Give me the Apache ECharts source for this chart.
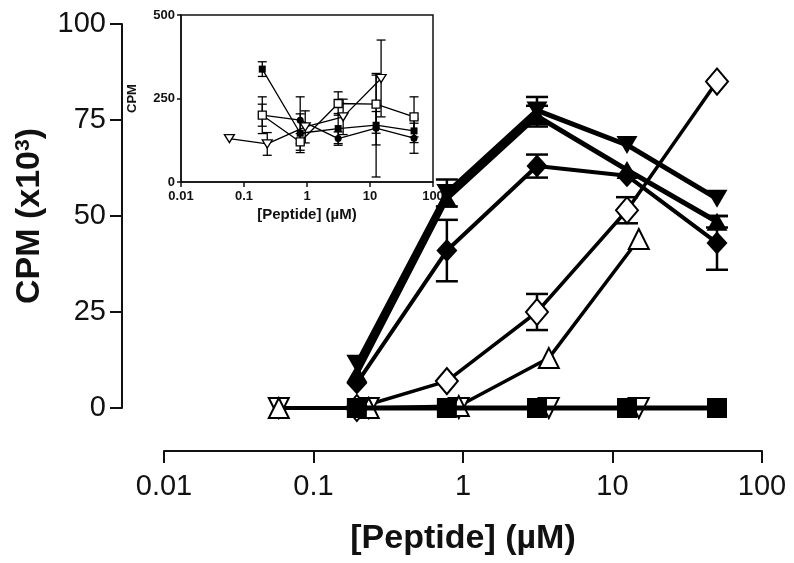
<!DOCTYPE html>
<html>
<head>
<meta charset="utf-8">
<script src="https://cdn.jsdelivr.net/npm/echarts@6/dist/echarts.min.js"></script>
<style>
  html, body { margin: 0; padding: 0; background: #fff; }
  #chart { width: 794px; height: 563px; }
</style>
</head>
<body>
<div id="chart"></div>
<script>
// ---------- data ----------
const concA = [0.195, 0.78, 3.125, 12.5, 50];
const concB = [0.0586, 0.234, 0.9375, 3.75, 15];
const xTickLabels = ['0.01', '0.1', '1', '10', '100'];
const mainYTicks = [0, 25, 50, 75, 100];
const insetYTicks = [0, 250, 500];

// main panel (CPM x10^3)
const mainFilledDown = [11.5, 56, 77.5, 68.5, 54.5];
const mainFilledDownErr = [0, 3.5, 3.5, 0, 0];
const mainFilledUp = [9, 54.5, 76, 62, 48.5];
const mainFilledUpErr = [0, 0, 2.7, 0, 1.5];
const mainFilledDiamond = [6.5, 41, 63, 60.5, 43];
const mainFilledDiamondErr = [0, 8, 3, 0, 7];
const mainOpenDiamond = [0, 7, 25, 51.5, 85];
const mainOpenDiamondErr = [0, 0, 4.7, 3.4, 0];
const mainOpenUp = [0, 0, 0.5, 13, 44];
const mainOpenDown = [0, 0, 0, 0, 0];
const mainFilledSquare = [0, 0, 0, 0, 0];

// inset panel (CPM)
const insetFilledSquare = [338, 146, 160, 170, 153];
const insetFilledSquareErr = [22, 58, 45, 155, 35];
const insetFilledCircle = [200, 185, 130, 161, 131];
const insetFilledCircleErr = [55, 70, 20, 50, 45];
const insetOpenSquare = [200, 120, 235, 233, 195];
const insetOpenSquareErr = [33, 25, 35, 87, 60];
const insetOpenDown = [130, 114, 165, 195, 310];
const insetOpenDownErr = [0, 34, 48, 53, 115];

// ---------- helpers ----------
const FONT = 'Liberation Sans, Arial, Helvetica, sans-serif';
const pts = (xs, ys) => xs.map((x, i) => [x, ys[i]]);
const errPts = (xs, ys, es) => xs.map((x, i) => [x, ys[i], es[i]]).filter(d => d[2] > 0);
const tickFmt = v => {
  const i = Math.round(Math.log10(v)) + 2;
  return xTickLabels[i] !== undefined ? xTickLabels[i] : '';
};

function errRender(capHalf, lw) {
  return function (params, api) {
    const x = api.value(0), y = api.value(1), e = api.value(2);
    const top = api.coord([x, y + e]);
    const bot = api.coord([x, y - e]);
    const style = { stroke: '#000', lineWidth: lw, fill: null };
    return {
      type: 'group',
      children: [
        { type: 'line', shape: { x1: top[0], y1: top[1], x2: bot[0], y2: bot[1] }, style: style },
        { type: 'line', shape: { x1: top[0] - capHalf, y1: top[1], x2: top[0] + capHalf, y2: top[1] }, style: style },
        { type: 'line', shape: { x1: bot[0] - capHalf, y1: bot[1], x2: bot[0] + capHalf, y2: bot[1] }, style: style }
      ]
    };
  };
}

function errSeries(data, gi, capHalf, lw, z) {
  return {
    type: 'custom', xAxisIndex: gi, yAxisIndex: gi, z: z, silent: true,
    renderItem: errRender(capHalf, lw), data: data, clip: false
  };
}

function lineSeries(data, gi, symbol, size, filled, lw, z, rotate, bw) {
  return {
    type: 'line', xAxisIndex: gi, yAxisIndex: gi, data: data, z: z,
    symbol: symbol, symbolSize: size, symbolRotate: rotate || 0, showSymbol: true,
    clip: false, silent: true,
    lineStyle: { color: '#000', width: lw },
    itemStyle: { color: filled ? '#000' : '#fff', borderColor: '#000', borderWidth: bw || (filled ? 0 : 2) },
    emphasis: { disabled: true }
  };
}

// ---------- chart ----------
const chart = echarts.init(document.getElementById('chart'), null, { renderer: 'canvas' });

const option = {
  animation: false,
  backgroundColor: '#fff',
  grid: [
    { left: 164, right: 32, top: 24, bottom: 155, containLabel: false },
    { left: 181, right: 361, top: 15, bottom: 381, show: true, borderColor: '#111', borderWidth: 1.5, backgroundColor: 'transparent' }
  ],
  xAxis: [
    {
      type: 'log', gridIndex: 0, logBase: 10, min: 0.01, max: 100, splitNumber: 4,
      offset: 43,
      axisLine: { show: true, onZero: false, lineStyle: { color: '#111', width: 2 } },
      axisTick: { show: true, length: 12, lineStyle: { color: '#111', width: 2 } },
      minorTick: { show: false },
      splitLine: { show: false },
      axisLabel: { formatter: tickFmt, color: '#111', fontFamily: FONT, fontSize: 29, margin: 21 },
      name: '[Peptide] (µM)', nameLocation: 'middle', nameGap: 71,
      nameTextStyle: { color: '#111', fontFamily: FONT, fontSize: 34, fontWeight: 'bold' }
    },
    {
      type: 'log', gridIndex: 1, logBase: 10, min: 0.01, max: 100, splitNumber: 4,
      axisLine: { show: true, onZero: false, lineStyle: { color: '#111', width: 1.5 } },
      axisTick: { show: true, length: 5, lineStyle: { color: '#111', width: 1.5 } },
      minorTick: { show: false },
      splitLine: { show: false },
      axisLabel: { formatter: tickFmt, color: '#111', fontFamily: FONT, fontSize: 13, fontWeight: 'bold', margin: 8 },
      name: '[Peptide] (µM)', nameLocation: 'middle', nameGap: 25,
      nameTextStyle: { color: '#111', fontFamily: FONT, fontSize: 15, fontWeight: 'bold' }
    }
  ],
  yAxis: [
    {
      type: 'value', gridIndex: 0, min: mainYTicks[0], max: mainYTicks[mainYTicks.length - 1], interval: 25,
      offset: 42,
      axisLine: { show: true, onZero: false, lineStyle: { color: '#111', width: 2 } },
      axisTick: { show: true, length: 12, lineStyle: { color: '#111', width: 2 } },
      splitLine: { show: false },
      axisLabel: { color: '#111', fontFamily: FONT, fontSize: 29, margin: 16 },
      name: '{b|CPM (x10}{s|3}{b|)}', nameLocation: 'middle', nameRotate: 90, nameGap: 69,
      nameTextStyle: {
        color: '#111', fontFamily: FONT, fontSize: 34, fontWeight: 'bold',
        rich: {
          b: { color: '#111', fontFamily: FONT, fontSize: 34, fontWeight: 'bold' },
          s: { color: '#111', fontFamily: FONT, fontSize: 21, fontWeight: 'bold', verticalAlign: 'top' }
        }
      }
    },
    {
      type: 'value', gridIndex: 1, min: insetYTicks[0], max: insetYTicks[insetYTicks.length - 1], interval: 250,
      axisLine: { show: true, onZero: false, lineStyle: { color: '#111', width: 1.5 } },
      axisTick: { show: true, length: 4, lineStyle: { color: '#111', width: 1.5 } },
      splitLine: { show: false },
      axisLabel: { color: '#111', fontFamily: FONT, fontSize: 13, fontWeight: 'bold', margin: 6 },
      name: 'CPM', nameLocation: 'middle', nameRotate: 90, nameGap: 42,
      nameTextStyle: { color: '#111', fontFamily: FONT, fontSize: 13, fontWeight: 'bold' }
    }
  ],
  series: [
    // inset error bars
    errSeries(errPts(concA, insetFilledSquare, insetFilledSquareErr), 1, 4.5, 1.3, 3),
    errSeries(errPts(concA, insetFilledCircle, insetFilledCircleErr), 1, 4.5, 1.3, 3),
    errSeries(errPts(concA, insetOpenSquare, insetOpenSquareErr), 1, 4.5, 1.3, 3),
    errSeries(errPts(concB, insetOpenDown, insetOpenDownErr), 1, 4.5, 1.3, 3),
    // inset lines
    lineSeries(pts(concA, insetFilledCircle), 1, 'circle', 7, true, 1.3, 4),
    lineSeries(pts(concA, insetFilledSquare), 1, 'rect', 7, true, 1.3, 4),
    lineSeries(pts(concA, insetOpenSquare), 1, 'rect', 8, false, 1.3, 4, 0, 1.3),
    lineSeries(pts(concB, insetOpenDown), 1, 'triangle', [10, 8], false, 1.3, 4, 180, 1.3),
    // main error bars
    errSeries(errPts(concA, mainFilledDown, mainFilledDownErr), 0, 11, 2.5, 5),
    errSeries(errPts(concA, mainFilledUp, mainFilledUpErr), 0, 11, 2.5, 5),
    errSeries(errPts(concA, mainFilledDiamond, mainFilledDiamondErr), 0, 11, 2.5, 5),
    errSeries(errPts(concA, mainOpenDiamond, mainOpenDiamondErr), 0, 11, 2.5, 5),
    // main lines
    lineSeries(pts(concB, mainOpenDown), 0, 'triangle', [20, 20], false, 4, 6, 180),
    lineSeries(pts(concB, mainOpenUp), 0, 'triangle', [20, 20], false, 3.5, 6),
    lineSeries(pts(concA, mainOpenDiamond), 0, 'diamond', [22, 26], false, 3.5, 6),
    lineSeries(pts(concA, mainFilledSquare), 0, 'rect', [20, 20], true, 5, 7),
    lineSeries(pts(concA, mainFilledDiamond), 0, 'diamond', [21, 23], true, 4, 7),
    lineSeries(pts(concA, mainFilledUp), 0, 'triangle', [21, 18], true, 5, 7),
    lineSeries(pts(concA, mainFilledDown), 0, 'triangle', [21, 18], true, 5, 7, 180)
  ]
};

chart.setOption(option);
</script>
</body>
</html>
